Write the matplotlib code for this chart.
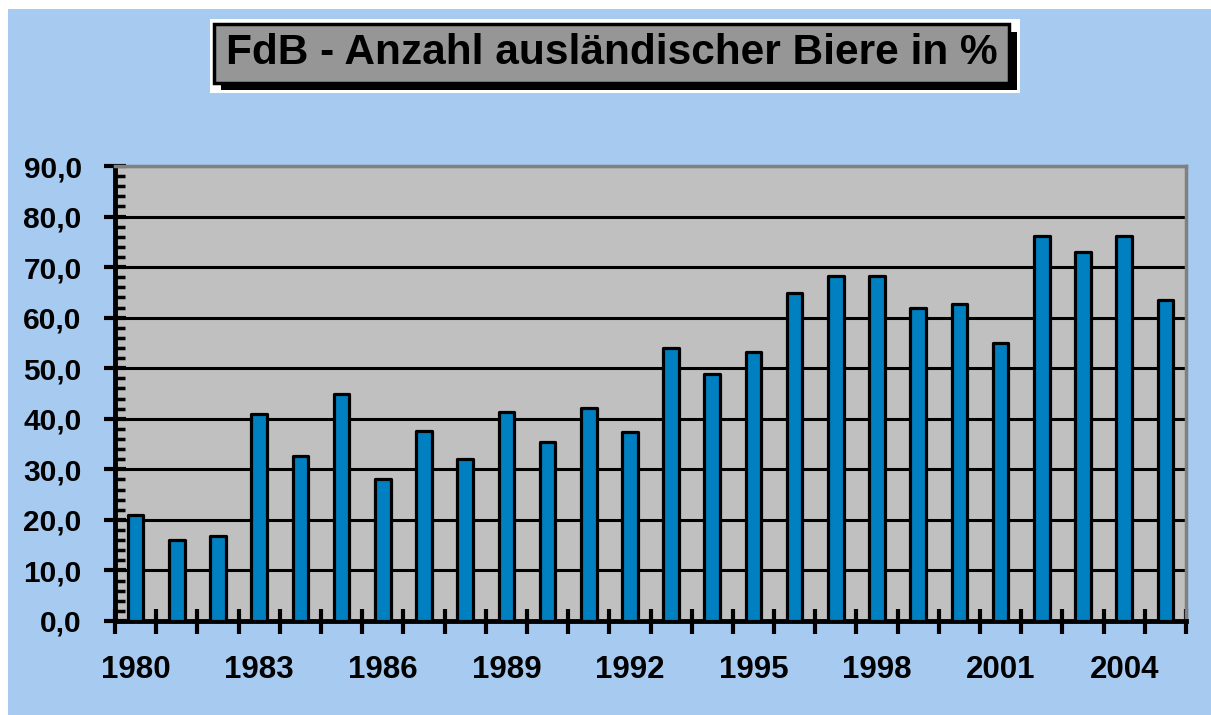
"""FdB - share of foreign beers per year, bar chart."""

import numpy as np
import matplotlib.pyplot as plt
from matplotlib.patches import Rectangle
from matplotlib.ticker import MultipleLocator, FixedLocator, NullFormatter

plt.rcParams["font.family"] = ["Liberation Sans", "DejaVu Sans"]
plt.rcParams["font.weight"] = "bold"

# Data
years = list(range(1980, 2006))
shares = [21.0, 16.0, 16.8, 41.0, 32.7, 45.0, 28.0, 37.5, 32.0, 41.3,
          35.5, 42.1, 37.4, 54.0, 48.8, 53.2, 64.8, 68.3, 68.3, 62.0,
          62.8, 55.0, 76.2, 73.0, 76.2, 63.5]
label_years = [1980, 1983, 1986, 1989, 1992, 1995, 1998, 2001, 2004]
y_ticks = [0, 10, 20, 30, 40, 50, 60, 70, 80, 90]

BG_COLOR = "#A6CAF0"
PLOT_COLOR = "#C0C0C0"
BAR_COLOR = "#0080C0"
TITLE_BOX = "#969696"

W, H = 1211, 715
fig = plt.figure(figsize=(W / 100, H / 100), dpi=100)
fig.patch.set_facecolor("white")


def px_rect(x0, y0, x1, y1, **kw):
    """Rectangle in pixel coords (origin top-left)."""
    r = Rectangle((x0 / W, 1 - y1 / H), (x1 - x0) / W, (y1 - y0) / H,
                  transform=fig.transFigure, **kw)
    fig.patches.append(r)
    return r


# light blue background with white margin top/left
px_rect(8, 9, W, H, facecolor=BG_COLOR, edgecolor="none", zorder=0)

# title block
px_rect(210, 19, 1020, 93, facecolor="white", edgecolor="none", zorder=1)
px_rect(221, 32, 1017, 90, facecolor="black", edgecolor="none", zorder=2)
px_rect(214, 24, 1009, 83, facecolor=TITLE_BOX, edgecolor="black",
        linewidth=2.5, zorder=3)
fig.text((214 + 1009) / 2 / W, 1 - 53 / H, "FdB - Anzahl ausländischer Biere in %",
         ha="center", va="center", fontsize=30.5, fontweight="bold", zorder=4)

# plot area
ax = fig.add_axes([115 / W, 1 - 621 / H, (1186 - 115) / W, (621 - 166) / H])
ax.set_facecolor(PLOT_COLOR)
ax.set_zorder(5)

x = np.arange(len(years))
ax.bar(x, shares, width=0.38, color=BAR_COLOR, edgecolor="black",
       linewidth=2.3, joinstyle="round", zorder=3)

ax.set_xlim(-0.5, len(years) - 0.5)
ax.set_ylim(0, 90)

# y axis
ax.yaxis.set_major_locator(FixedLocator(y_ticks))
ax.yaxis.set_minor_locator(MultipleLocator(2))
ax.set_yticklabels([f"{v:.1f}".replace(".", ",") for v in y_ticks])
ax.grid(True, axis="y", which="major", color="black", linewidth=2.2, zorder=1)
ax.set_axisbelow(True)

# x axis: ticks on category boundaries, labels every third year
ax.xaxis.set_major_locator(FixedLocator(np.arange(-0.5, len(years), 1.0)))
ax.xaxis.set_major_formatter(NullFormatter())
for yr in label_years:
    ax.text(years.index(yr), -0.108, str(yr), transform=ax.get_xaxis_transform(),
            ha="center", va="center", fontsize=22.5, fontweight="bold")

ax.tick_params(axis="y", which="major", direction="inout", length=16, width=3,
               labelsize=21.5, pad=16)
ax.tick_params(axis="y", which="minor", direction="in", length=7, width=2.5)
ax.tick_params(axis="x", which="major", direction="inout", length=18, width=3)

for side in ("left", "bottom"):
    ax.spines[side].set_color("black")
    ax.spines[side].set_linewidth(3.5)
for side in ("top", "right"):
    ax.spines[side].set_color("#808080")
    ax.spines[side].set_linewidth(2.5)

fig.savefig("out.png", dpi=100, facecolor=fig.get_facecolor())
